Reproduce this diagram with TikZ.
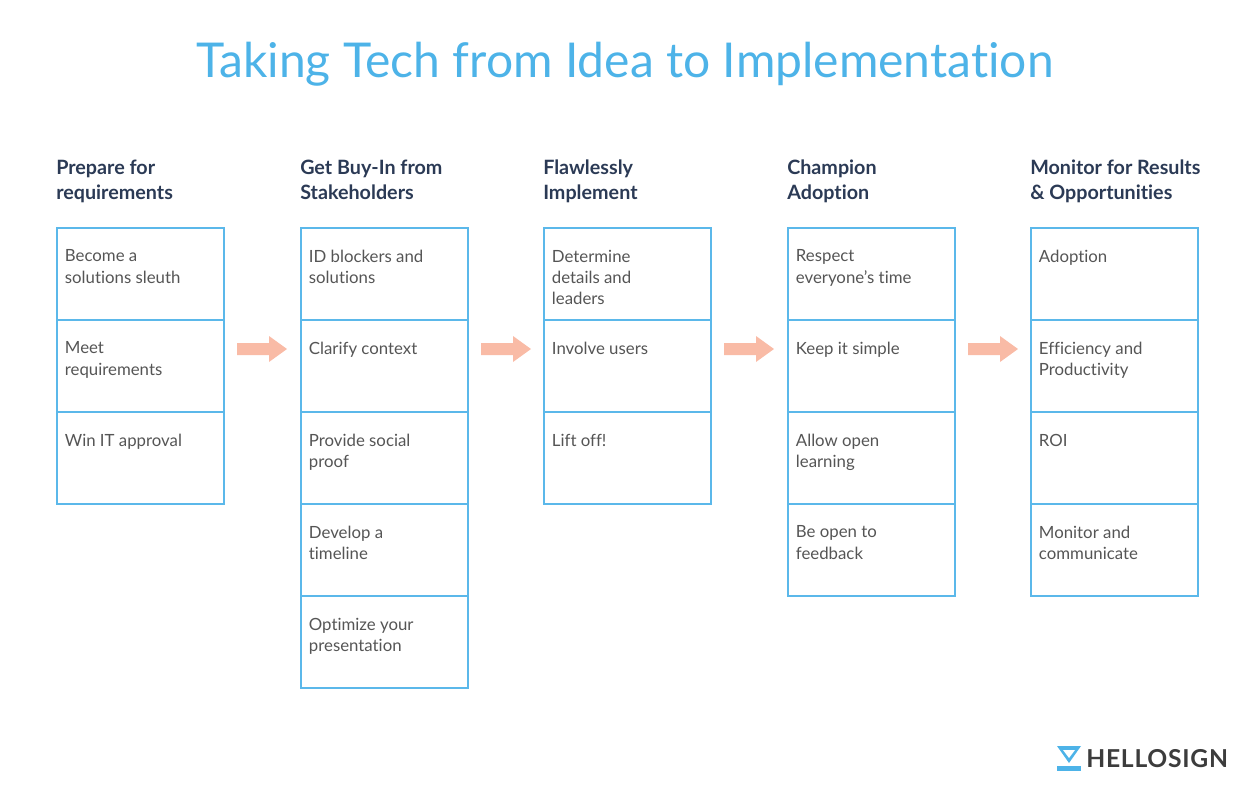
\documentclass[tikz,border=0pt]{standalone}
\usepackage{fontspec}
\setmainfont{Lato}[Ligatures=NoCommon]
\usetikzlibrary{positioning}
\definecolor{cblue}{HTML}{5BB8EA}
\definecolor{ctitle}{HTML}{4DB3E8}
\definecolor{cnavy}{HTML}{2B3A55}
\definecolor{cgray}{HTML}{555555}
\definecolor{cpeach}{HTML}{F9BBA6}
\definecolor{clogo}{HTML}{3C3C3C}
\begin{document}
\begin{tikzpicture}[x=0.75pt,y=-0.75pt,
  cell/.style={draw=cblue,line width=1.5pt,minimum width=125pt,minimum height=69pt,inner sep=0pt,anchor=north west},
  celltext/.style={anchor=north west,align=left,text=cgray,font=\fontsize{12.6}{16}\selectfont,inner sep=0pt},
  head/.style={anchor=north west,align=left,text=cnavy,font=\bfseries\fontsize{14.8}{18.5}\selectfont,inner sep=0pt},
  parrow/.style={fill=cpeach,draw=none}]
\useasboundingbox (0,0) rectangle (1250,797);
\node[text=ctitle,font=\fontsize{36}{40}\selectfont] (title) at (625,64) {Taking Tech from Idea to Implementation};
\def\col#1#2#3{%
  \node[head] (h#1) at (#2,160) {#3};}
\col{1}{56}{Prepare for\\requirements}
\col{2}{300}{Get Buy-In from\\Stakeholders}
\col{3}{543}{Flawlessly\\Implement}
\col{4}{787}{Champion\\Adoption}
\col{5}{1030}{Monitor for Results\\\& Opportunities}
\newcommand\mycell[4]{%
  \node[cell] (c#1) at (#2,#3) {};
  \node[celltext] (t#1) at ([xshift=6.5pt,yshift=-17pt]c#1.north west) {#4};}
\mycell{11}{56}{227}{Become a\\solutions sleuth}
\mycell{12}{56}{319}{Meet\\requirements}
\mycell{13}{56}{411}{Win IT approval}
\mycell{21}{300}{227}{ID blockers and\\solutions}
\mycell{22}{300}{319}{Clarify context}
\mycell{23}{300}{411}{Provide social\\proof}
\mycell{24}{300}{503}{Develop a\\timeline}
\mycell{25}{300}{595}{Optimize your\\presentation}
\mycell{31}{543}{227}{Determine\\details and\\leaders}
\mycell{32}{543}{319}{Involve users}
\mycell{33}{543}{411}{Lift off!}
\mycell{41}{787}{227}{Respect\\everyone’s time}
\mycell{42}{787}{319}{Keep it simple}
\mycell{43}{787}{411}{Allow open\\learning}
\mycell{44}{787}{503}{Be open to\\feedback}
\mycell{51}{1030}{227}{Adoption}
\mycell{52}{1030}{319}{Efficiency and\\Productivity}
\mycell{53}{1030}{411}{ROI}
\mycell{54}{1030}{503}{Monitor and\\communicate}
\newcommand\parr[1]{%
  \fill[cpeach] (#1,343) -- ++(32,0) -- ++(0,-7) -- ++(18,13) -- ++(-18,13) -- ++(0,-7) -- ++(-32,0) -- cycle;}
\parr{237}\parr{481}\parr{724}\parr{968}
\fill[ctitle] (1057,746) -- (1081,746) -- (1069,763) -- cycle;
\fill[white] (1063,750) -- (1075,750) -- (1069,758) -- cycle;
\fill[ctitle] (1057,766) rectangle (1081,771);
\node[anchor=west,text=clogo,font=\bfseries\fontsize{18.5}{20}\selectfont,inner sep=0pt] (brand) at (1086,759) {\addfontfeature{LetterSpace=3}HELLOSIGN};
\end{tikzpicture}
\end{document}
